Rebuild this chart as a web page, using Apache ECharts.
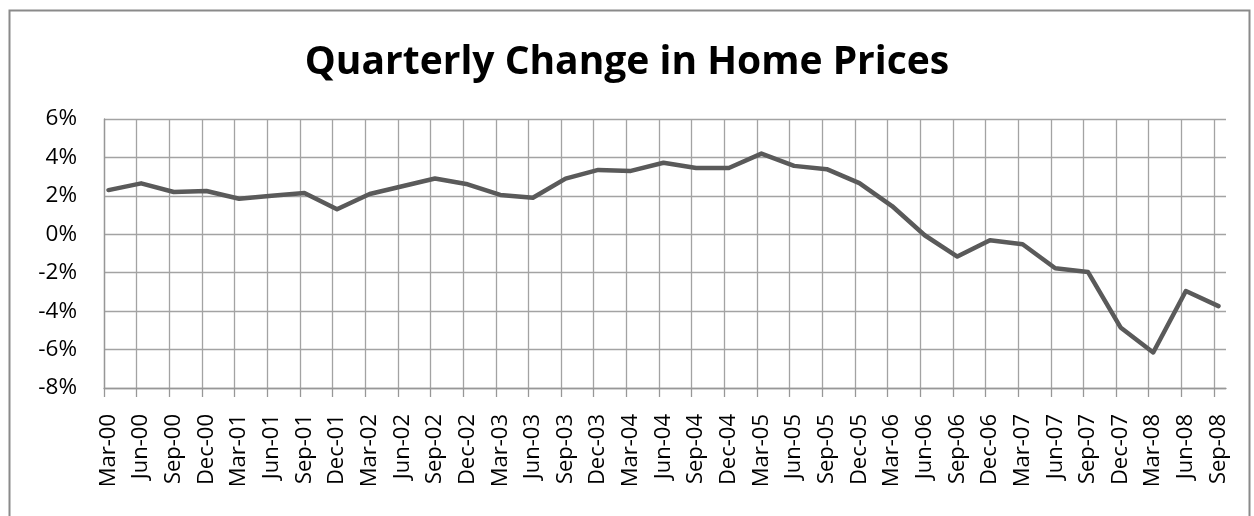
<!DOCTYPE html>
<html>
<head>
<meta charset="utf-8">
<script src="https://cdn.jsdelivr.net/npm/echarts@6/dist/echarts.min.js"></script>
<style>
html,body{margin:0;padding:0;background:#fff;}
#chart{width:1254px;height:516px;}
</style>
</head>
<body>
<div id="chart"></div>
<script>
const titleText = 'Quarterly Change in Home Prices';
const categories = ['Mar-00','Jun-00','Sep-00','Dec-00','Mar-01','Jun-01','Sep-01','Dec-01',
  'Mar-02','Jun-02','Sep-02','Dec-02','Mar-03','Jun-03','Sep-03','Dec-03',
  'Mar-04','Jun-04','Sep-04','Dec-04','Mar-05','Jun-05','Sep-05','Dec-05',
  'Mar-06','Jun-06','Sep-06','Dec-06','Mar-07','Jun-07','Sep-07','Dec-07',
  'Mar-08','Jun-08','Sep-08'];
const changes = [2.3, 2.65, 2.2, 2.25, 1.85, 2.0, 2.15, 1.3,
  2.1, 2.5, 2.9, 2.6, 2.05, 1.9, 2.9, 3.35,
  3.3, 3.72, 3.45, 3.45, 4.2, 3.56, 3.39, 2.66,
  1.47, -0.05, -1.16, -0.31, -0.52, -1.77, -1.96, -4.85,
  -6.15, -2.95, -3.74];
const yMin = -8, yMax = 6, yStep = 2;

const FONT = '"Open Sans", "DejaVu Sans", sans-serif';
const GRID_COLOR = '#a3a3a3';
const AXIS_COLOR = '#979797';

const chart = echarts.init(document.getElementById('chart'), null, {renderer: 'canvas'});
const gridTop = 119, gridBottom = 516 - 388;

const option = {
  animation: false,
  backgroundColor: '#ffffff',
  title: {
    text: titleText,
    left: 'center',
    top: 38,
    textStyle: {fontFamily: FONT, fontSize: 39, fontWeight: 'bold', color: '#000'}
  },
  graphic: [{
    type: 'rect', left: 7, top: 8, silent: true, z: -1,
    shape: {x: 0, y: 0, width: 1240, height: 530},
    style: {fill: 'none', stroke: '#8a8a8a', lineWidth: 2}
  }],
  grid: [
    {left: 104, right: 28, top: gridTop, bottom: gridBottom, containLabel: false},
    {left: 104, right: 40, top: gridTop, bottom: gridBottom, containLabel: false},
    {left: 108.5, right: 35.5, top: gridTop, bottom: gridBottom, containLabel: false}
  ],
  xAxis: [
    {gridIndex: 0, type: 'value', min: 0, max: 1,
     axisLine: {show: true, onZero: false, lineStyle: {color: AXIS_COLOR, width: 1.3}},
     axisTick: {show: false}, axisLabel: {show: false}, splitLine: {show: false}},
    {gridIndex: 1, type: 'category', data: categories, boundaryGap: false,
     axisLine: {show: false, onZero: false},
     axisTick: {show: true, interval: 0, length: 9, lineStyle: {color: AXIS_COLOR, width: 1.3}},
     axisLabel: {show: false},
     splitLine: {show: true, interval: 0, lineStyle: {color: GRID_COLOR, width: 1.3}}},
    {gridIndex: 2, type: 'category', data: categories, boundaryGap: false,
     axisLine: {show: false, onZero: false},
     axisTick: {show: false},
     axisLabel: {show: true, interval: 0, rotate: 90, margin: 26,
       fontFamily: FONT, fontSize: 22, color: '#000'},
     splitLine: {show: false}}
  ],
  yAxis: [
    {gridIndex: 0, type: 'value', min: yMin, max: yMax, interval: yStep,
     axisLine: {show: true, lineStyle: {color: AXIS_COLOR, width: 1.3}},
     axisTick: {show: false},
     axisLabel: {show: true, margin: 27, formatter: '{value}%',
       fontFamily: FONT, fontSize: 22.5, color: '#000'},
     splitLine: {show: true, lineStyle: {color: GRID_COLOR, width: 1.3}}},
    {gridIndex: 1, type: 'value', min: yMin, max: yMax, interval: yStep, show: false},
    {gridIndex: 2, type: 'value', min: yMin, max: yMax, interval: yStep, show: false}
  ],
  series: [{
    type: 'line',
    xAxisIndex: 2, yAxisIndex: 2,
    data: changes,
    symbol: 'none',
    lineStyle: {color: '#5a5a5a', width: 4.5, cap: 'round', join: 'round'},
    z: 5
  }]
};
chart.setOption(option);
</script>
</body>
</html>
